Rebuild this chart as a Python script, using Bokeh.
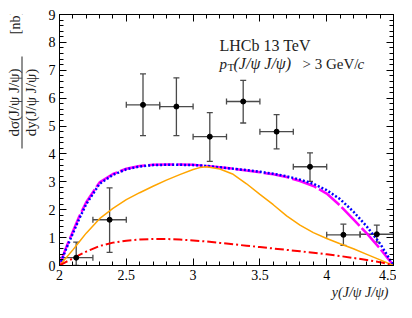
import math
from bokeh.plotting import figure
from bokeh.layouts import row
from bokeh.models import (Range1d, LinearAxis, SingleIntervalTicker, NumeralTickFormatter,
                          CustomJSTickFormatter, Whisker, TeeHead, ColumnDataSource, Label,
                          Title)
from bokeh.core.properties import value
from bokeh.embed import file_html
from bokeh.resources import INLINE

# ---------------- data ----------------
bin_center = [2.125, 2.375, 2.625, 2.875, 3.125, 3.375, 3.625, 3.875, 4.125, 4.375]
bin_half = [0.125, 0.125, 0.125, 0.125, 0.125, 0.125, 0.125, 0.125, 0.125, 0.125]
xsec = [0.28, 1.64, 5.76, 5.70, 4.62, 5.88, 4.80, 3.54, 1.10, 1.12]
err_up = [0.56, 1.14, 1.11, 1.03, 0.86, 0.76, 0.61, 0.50, 0.38, 0.33]
err_down = [0.28, 1.17, 1.10, 1.04, 0.89, 0.77, 0.62, 0.52, 0.38, 0.28]

model_x = [2.0, 2.05, 2.1, 2.15, 2.2, 2.3, 2.4, 2.5, 2.6, 2.7, 2.8, 2.9, 3.0, 3.05, 3.1,
           3.2, 3.3, 3.4, 3.5, 3.6, 3.7, 3.8, 3.9, 4.0, 4.1, 4.2, 4.3, 4.4, 4.5]
total_a = [0.0, 0.65, 1.22, 1.78, 2.27, 2.98, 3.28, 3.47, 3.57, 3.61, 3.62, 3.62, 3.61, 3.59, 3.57,
           3.52, 3.47, 3.41, 3.34, 3.27, 3.17, 3.03, 2.85, 2.58, 2.15, 1.65, 1.15, 0.60, 0.0]
total_b = [0.0, 0.60, 1.15, 1.70, 2.20, 2.93, 3.25, 3.45, 3.55, 3.60, 3.61, 3.61, 3.60, 3.59, 3.57,
           3.52, 3.47, 3.42, 3.36, 3.29, 3.20, 3.08, 2.93, 2.70, 2.38, 1.93, 1.40, 0.78, 0.0]
sps = [0.0, 0.28, 0.56, 0.86, 1.16, 1.68, 2.05, 2.36, 2.61, 2.84, 3.06, 3.26, 3.44, 3.51, 3.54,
       3.46, 3.27, 2.93, 2.55, 2.18, 1.78, 1.45, 1.18, 0.97, 0.78, 0.60, 0.40, 0.20, 0.0]
dps = [0.0, 0.13, 0.25, 0.38, 0.50, 0.70, 0.82, 0.89, 0.93, 0.95, 0.95, 0.93, 0.90, 0.88, 0.86,
       0.81, 0.76, 0.71, 0.66, 0.61, 0.56, 0.51, 0.46, 0.40, 0.34, 0.27, 0.20, 0.12, 0.0]

x_tick_step = 0.5
y_tick_step = 1

y_label_parts = ["dσ(J/ψ J/ψ)", "dy(J/ψ J/ψ)", "[nb]"]
x_label = "y(J/ψ J/ψ)"

SERIF = "Liberation Serif"
LW = 40          # width of the y-label strip
H = 309          # strip height

# ---------------- main figure ----------------
p = figure(frame_width=334, frame_height=251,
           x_range=Range1d(2, 4.5), y_range=Range1d(0, 9),
           output_backend="svg", toolbar_location=None,
           min_border_left=59 - LW, min_border_right=3, min_border_top=14, min_border_bottom=44)
p.align = "start"
p.xgrid.visible = False
p.ygrid.visible = False
p.outline_line_color = "black"
p.outline_line_width = 1
p.background_fill_color = "white"


def style_axis(ax, labels=True):
    ax.axis_line_color = "black"
    ax.major_tick_in = 7
    ax.major_tick_out = 0
    ax.minor_tick_in = 4
    ax.minor_tick_out = 0
    ax.major_tick_line_color = "black"
    ax.minor_tick_line_color = "black"
    ax.major_label_text_font = SERIF
    ax.major_label_text_font_size = "14px"
    ax.major_label_text_color = "black"
    if not labels:
        ax.formatter = CustomJSTickFormatter(code="return ''")
        ax.major_label_standoff = 0


p.xaxis.ticker = SingleIntervalTicker(interval=x_tick_step, num_minor_ticks=5)
p.yaxis.ticker = SingleIntervalTicker(interval=y_tick_step, num_minor_ticks=5)
p.xaxis.formatter = NumeralTickFormatter(format="0.[0]")
style_axis(p.xaxis[0])
style_axis(p.yaxis[0])
p.xaxis.major_label_standoff = 4
p.yaxis.major_label_standoff = 4

top = LinearAxis(ticker=SingleIntervalTicker(interval=x_tick_step, num_minor_ticks=5))
style_axis(top, labels=False)
p.add_layout(top, "above")
right = LinearAxis(ticker=SingleIntervalTicker(interval=y_tick_step, num_minor_ticks=5))
style_axis(right, labels=False)
p.add_layout(right, "right")

p.add_layout(Title(text=x_label, align="right", offset=5, standoff=0,
                   text_font=SERIF, text_font_size="14px", text_font_style="italic",
                   text_color="#222222"), "below")

# ---------------- curves ----------------
p.line(model_x, total_a, line_color="#ff00ff", line_width=2.5, line_dash="26 3")
p.line(model_x, total_b, line_color="#0000ff", line_width=2.5, line_dash="2 2")
p.line(model_x, sps, line_color="#ffa500", line_width=1.5)
p.line(model_x, dps, line_color="#ff0000", line_width=2, line_dash="9 3 2 3")

# ---------------- data points ----------------
src = ColumnDataSource(dict(
    x=bin_center, y=xsec,
    xl=[c - h for c, h in zip(bin_center, bin_half)],
    xh=[c + h for c, h in zip(bin_center, bin_half)],
    yl=[v - d for v, d in zip(xsec, err_down)],
    yh=[v + u for v, u in zip(xsec, err_up)],
))
ebc = "#4a4a4a"
p.add_layout(Whisker(source=src, base="x", lower="yl", upper="yh", dimension="height",
                     line_color=ebc, line_width=1.3,
                     upper_head=TeeHead(size=6, line_color=ebc, line_width=1.3),
                     lower_head=TeeHead(size=6, line_color=ebc, line_width=1.3)))
p.add_layout(Whisker(source=src, base="y", lower="xl", upper="xh", dimension="width",
                     line_color=ebc, line_width=1.3,
                     upper_head=TeeHead(size=6, line_color=ebc, line_width=1.3),
                     lower_head=TeeHead(size=6, line_color=ebc, line_width=1.3)))
p.scatter("x", "y", source=src, size=5, color="black")

# ---------------- texts inside the frame ----------------
def lab(text, x, y, size="15px", style="normal"):
    p.add_layout(Label(x=x, y=y, x_units="screen", y_units="screen", text=text,
                       text_font=SERIF, text_font_size=size, text_font_style=style,
                       text_align="left", text_baseline="alphabetic", text_color="#222222"))

lab("LHCb 13 TeV", 160, 220, size="16px")
by = 202
lab("p", 160, by, style="italic")
lab("T", 168, by - 3, size="11px")
lab("(J/ψ J/ψ)", 174, by, size="16px", style="italic")
lab("> 3 GeV/", 243, by)
lab("c", 298, by, style="italic")

# ---------------- y-label strip (fraction) ----------------
q = figure(frame_width=LW, frame_height=H, x_range=Range1d(0, LW), y_range=Range1d(0, H),
           x_axis_type=None, y_axis_type=None, output_backend="svg", toolbar_location=None,
           min_border=0, min_border_left=0, min_border_right=0,
           min_border_top=0, min_border_bottom=0)
q.align = "start"
q.xgrid.visible = False
q.ygrid.visible = False
q.outline_line_color = None
q.text(x=[13, 30], y=[221, 221], text=y_label_parts[:2], angle=math.pi / 2,
       text_align="center", text_baseline="middle", text_font=value(SERIF),
       text_font_size=value("15px"), text_color="#222222")
q.text(x=[14.5], y=[301], text=y_label_parts[2:], angle=math.pi / 2,
       text_align="center", text_baseline="middle", text_font=value(SERIF),
       text_font_size=value("14px"), text_color="#222222")
q.segment(x0=[21.5], y0=[175], x1=[21.5], y1=[267], line_color="#222222", line_width=1)

layout = row(q, p, spacing=0)
open("out.html", "w").write(file_html(layout, INLINE))
